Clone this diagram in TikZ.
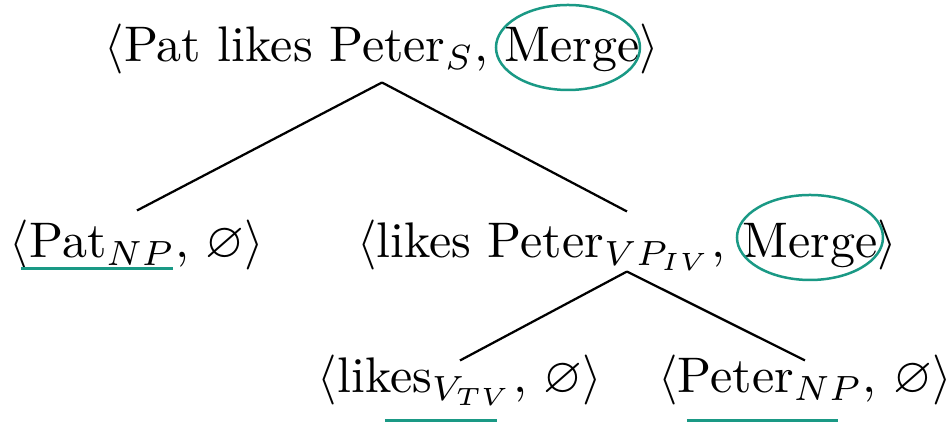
\documentclass[tikz,border=0pt]{standalone}
\usepackage{amssymb}
\usetikzlibrary{shapes.geometric}
\definecolor{MergeTeal}{HTML}{1A9985}
\tikzset{
    treenode/.style={
        inner sep=0pt,
        anchor=base,
        font=\normalsize
    },
    branch/.style={
        draw=black,
        line width=0.45pt
    },
    ring/.style={
        draw=MergeTeal,
        line width=0.5pt
    },
    uline/.style={
        draw=MergeTeal,
        line width=0.6pt
    }
}
\begin{document}
\begin{tikzpicture}[x=0.2pt, y=-0.2pt]
        \useasboundingbox (0,0) rectangle (952,423);

        % Root
        \node[treenode] (root) at (382,62) {$\langle$Pat likes Peter$_S$, Merge$\rangle$};

        % Daughters of the root
        \node[treenode] (pat) at (137,258) {$\langle$Pat$_{NP}$, $\varnothing\rangle$};
        \node[treenode] (vp) at (627,258) {$\langle$likes Peter$_{VP_{IV}}$, Merge$\rangle$};

        % Daughters of the VP
        \node[treenode] (likes) at (460,393) {$\langle$likes$_{V_{TV}}$, $\varnothing\rangle$};
        \node[treenode] (peter) at (805,393) {$\langle$Peter$_{NP}$, $\varnothing\rangle$};

        % Branches
        \draw[branch] ([yshift=-1.4pt]root.south) -- ([yshift=1.8pt]pat.north);
        \draw[branch] ([yshift=-1.4pt]root.south) -- ([yshift=1.6pt]vp.north);
        \draw[branch] (vp.south) -- ([yshift=-1.2pt]likes.north);
        \draw[branch] (vp.south) -- ([yshift=-1.2pt]peter.north);

        % Merge rings
        \draw[ring] (568,47.5) ellipse [x radius=72, y radius=42.5];
        \draw[ring] (810,237.5) ellipse [x radius=73, y radius=42.5];

        % Lexical items
        \draw[uline] (21,269) -- (173,269);
        \draw[uline] (385,421) -- (497,421);
        \draw[uline] (687,421) -- (838,421);
\end{tikzpicture}
\end{document}
